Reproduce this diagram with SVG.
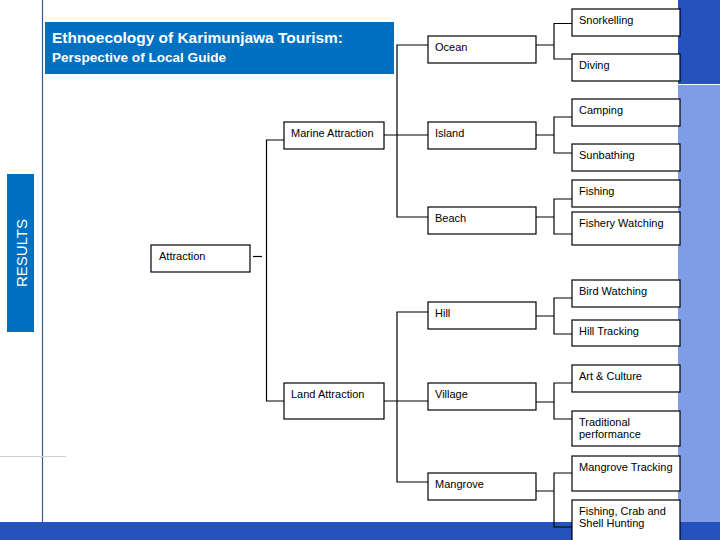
<svg xmlns="http://www.w3.org/2000/svg" width="720" height="540" viewBox="0 0 720 540">
<style>
.bx{fill:#fff;stroke:#000;stroke-width:1.2}
.t{font-family:"Liberation Sans",Arial,sans-serif;font-size:11px;fill:#000}
.c{fill:none;stroke:#000;stroke-width:1.2}
</style>
<rect x="0" y="0" width="720" height="540" fill="#fff"/>
<g id="background">
<rect x="678" y="0" width="42" height="84" fill="#2452BE"/>
<rect x="678" y="85" width="42" height="437" fill="#7F9DE6"/>
<rect x="0" y="522" width="720" height="18" fill="#2452BE"/>
<line x1="42.5" y1="0" x2="42.5" y2="522" stroke="#3B5A8C" stroke-width="1.2"/>
<line x1="0" y1="456.5" x2="66" y2="456.5" stroke="#D0D0D0" stroke-width="1"/>
</g>
<g id="title">
<rect x="45" y="22" width="349" height="52" fill="#0070C0"/>
<text x="52" y="43" font-family="'Liberation Sans',Arial,sans-serif" font-weight="bold" font-size="15" fill="#fff" textLength="291" lengthAdjust="spacingAndGlyphs">Ethnoecology of Karimunjawa Tourism:</text>
<text x="52" y="62" font-family="'Liberation Sans',Arial,sans-serif" font-weight="bold" font-size="13" fill="#fff" textLength="174" lengthAdjust="spacingAndGlyphs">Perspective of Local Guide</text>
</g>
<g id="results">
<rect x="7" y="174" width="27" height="158" fill="#0070C0"/>
<text x="27" y="253" transform="rotate(-90 27 253)" text-anchor="middle" font-family="'Liberation Sans',Arial,sans-serif" font-size="15" fill="#fff">RESULTS</text>
</g>
<g id="connectors">
<line class="c" x1="253" y1="256.5" x2="262" y2="256.5"/>
<path class="c" d="M284,140 H266.5 V401 H284"/>
<path class="c" d="M384,135 H428 M428,45 H397 V217 H428"/>
<path class="c" d="M384,401 H428 M428,312 H397 V482 H428"/>
<path class="c" d="M536,45 H554 M572,23.5 H554 V59 H572"/>
<path class="c" d="M536,135 H554 M572,117 H554 V153 H572"/>
<path class="c" d="M536,217 H554 M572,199 H554 V234 H572"/>
<path class="c" d="M536,316 H554 M572,298 H554 V334 H572"/>
<path class="c" d="M536,402 H554 M572,383 H554 V419 H572"/>
<path class="c" d="M536,491 H554 M572,473 H554 V527 H572"/>
</g>
<g id="attraction"><rect class="bx" x="151" y="245" width="99" height="27"/><text class="t" x="159" y="260">Attraction</text></g>
<g id="marine"><rect class="bx" x="284" y="122" width="100" height="27"/><text class="t" x="291" y="137">Marine Attraction</text></g>
<g id="land"><rect class="bx" x="284" y="383" width="100" height="36"/><text class="t" x="291" y="398">Land Attraction</text></g>
<g id="ocean"><rect class="bx" x="428" y="36" width="108" height="27"/><text class="t" x="435" y="51">Ocean</text></g>
<g id="island"><rect class="bx" x="428" y="122" width="108" height="27"/><text class="t" x="435" y="137">Island</text></g>
<g id="beach"><rect class="bx" x="428" y="207" width="108" height="27"/><text class="t" x="435" y="222">Beach</text></g>
<g id="hill"><rect class="bx" x="428" y="302" width="108" height="27"/><text class="t" x="435" y="317">Hill</text></g>
<g id="village"><rect class="bx" x="428" y="383" width="108" height="27"/><text class="t" x="435" y="398">Village</text></g>
<g id="mangrove"><rect class="bx" x="428" y="473" width="108" height="27"/><text class="t" x="435" y="488">Mangrove</text></g>
<g id="snorkelling"><rect class="bx" x="572" y="9" width="108" height="27"/><text class="t" x="579" y="24">Snorkelling</text></g>
<g id="diving"><rect class="bx" x="572" y="54" width="108" height="27"/><text class="t" x="579" y="69">Diving</text></g>
<g id="camping"><rect class="bx" x="572" y="99" width="108" height="27"/><text class="t" x="579" y="114">Camping</text></g>
<g id="sunbathing"><rect class="bx" x="572" y="144" width="108" height="27"/><text class="t" x="579" y="159">Sunbathing</text></g>
<g id="fishing"><rect class="bx" x="572" y="180" width="108" height="27"/><text class="t" x="579" y="195">Fishing</text></g>
<g id="fishery"><rect class="bx" x="572" y="212" width="108" height="33"/><text class="t" x="579" y="227">Fishery Watching</text></g>
<g id="bird"><rect class="bx" x="572" y="280" width="108" height="27"/><text class="t" x="579" y="295">Bird Watching</text></g>
<g id="hilltracking"><rect class="bx" x="572" y="320" width="108" height="26"/><text class="t" x="579" y="335">Hill Tracking</text></g>
<g id="art"><rect class="bx" x="572" y="365" width="108" height="27"/><text class="t" x="579" y="380">Art &amp; Culture</text></g>
<g id="traditional"><rect class="bx" x="572" y="411" width="108" height="35"/><text class="t" x="579" y="426">Traditional</text><text class="t" x="579" y="438">performance</text></g>
<g id="mangrovetracking"><rect class="bx" x="572" y="456" width="108" height="35"/><text class="t" x="579" y="471">Mangrove Tracking</text></g>
<g id="fishingcrab"><rect class="bx" x="572" y="500" width="108" height="45"/><text class="t" x="579" y="515">Fishing, Crab and</text><text class="t" x="579" y="527">Shell Hunting</text></g>
</svg>
